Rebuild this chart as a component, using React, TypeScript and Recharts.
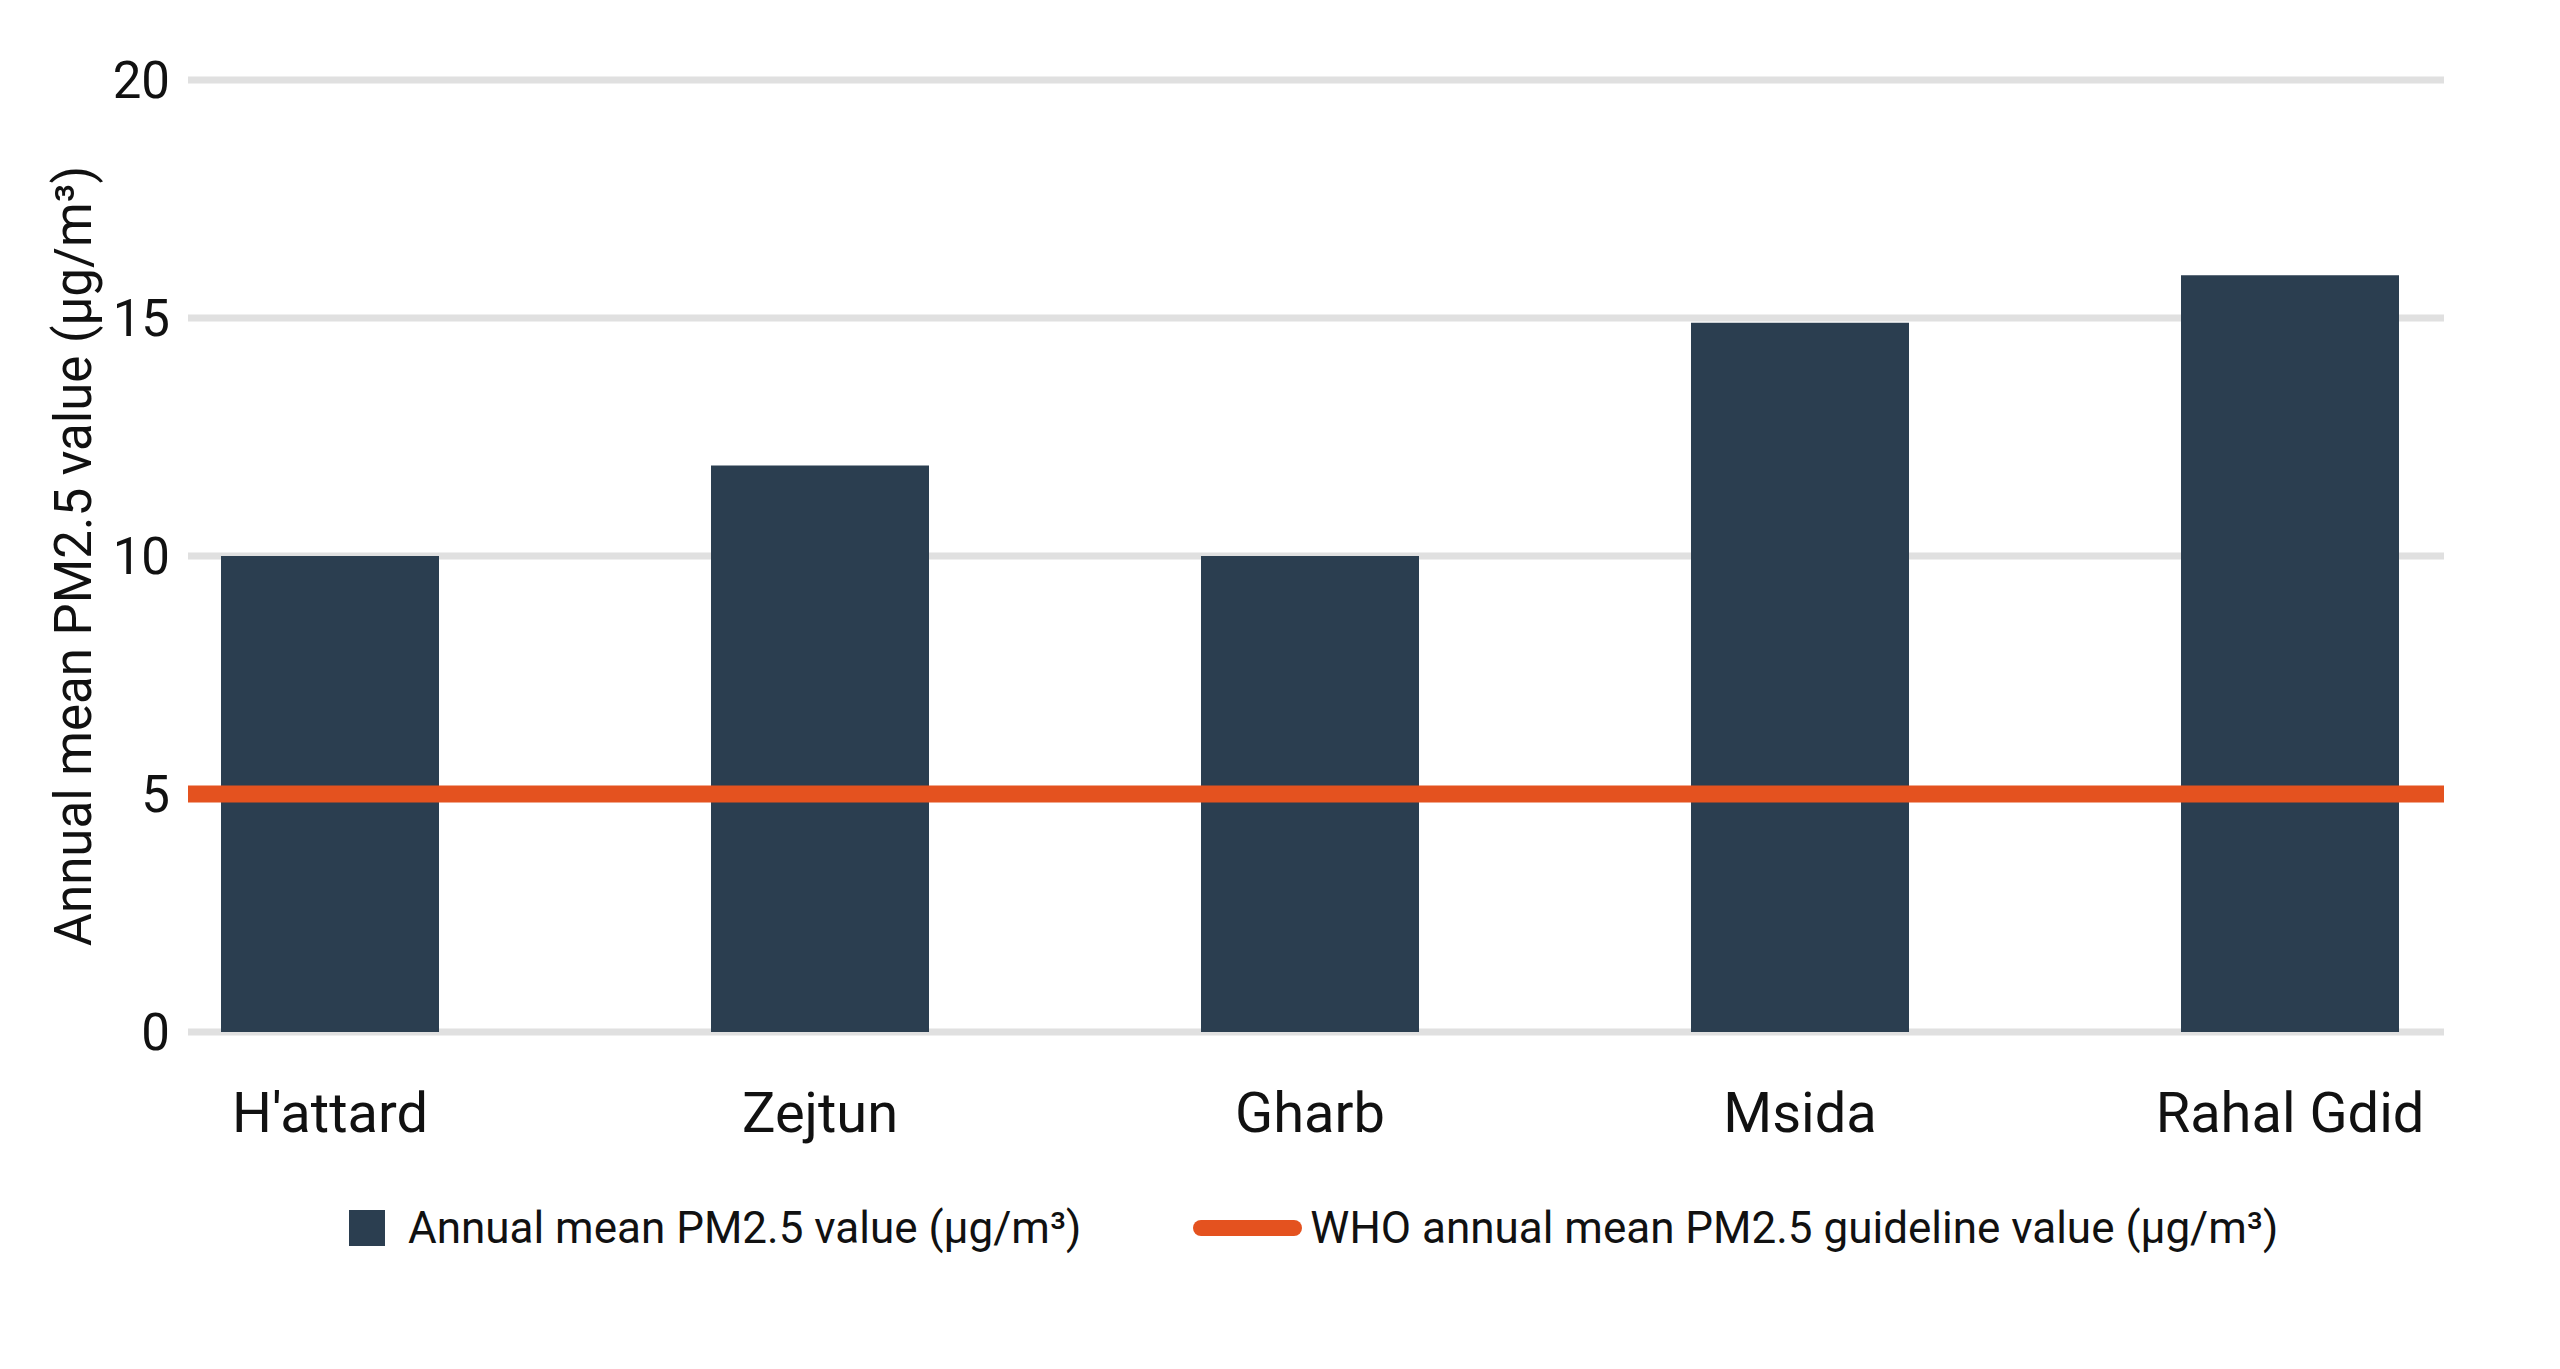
import { Bar, BarChart, CartesianGrid, Legend, ReferenceLine, XAxis, YAxis } from 'recharts';

// Monitoring stations and their annual mean PM2.5 (µg/m³)
const sites = ["H'attard", 'Zejtun', 'Gharb', 'Msida', 'Rahal Gdid'];
const pm25Values = [10, 11.9, 10, 14.9, 15.9];

// WHO guideline shown as a horizontal line
const whoGuideline = 5;

const yTicks = [0, 5, 10, 15, 20];

const seriesLabel = 'Annual mean PM2.5 value (µg/m³)';
const guidelineLabel = 'WHO annual mean PM2.5 guideline value (µg/m³)';

const BAR_COLOR = '#2B3E50';
const LINE_COLOR = '#E4521F';
const GRID_COLOR = '#E0E0E0';
const TEXT_COLOR = '#111111';

const data = sites.map((site, i) => ({ site, value: pm25Values[i] }));

// padding instead of margin so the legend box keeps its height
const renderLegend = () => (
  <div style={{ height: 197, boxSizing: 'border-box', paddingTop: 26 }}>
    <div
      style={{
        display: 'flex',
        alignItems: 'center',
        height: 60,
        paddingLeft: 349,
        fontSize: 44,
        color: TEXT_COLOR,
        fontFamily: 'Roboto, sans-serif',
        whiteSpace: 'nowrap',
      }}
    >
      <span style={{ width: 36, height: 36, background: BAR_COLOR, display: 'inline-block' }} />
      <span style={{ marginLeft: 23 }}>{seriesLabel}</span>
      <span
        style={{
          width: 109,
          height: 16,
          borderRadius: 8,
          background: LINE_COLOR,
          display: 'inline-block',
          marginLeft: 112,
        }}
      />
      <span style={{ marginLeft: 8 }}>{guidelineLabel}</span>
    </div>
  </div>
);

const App = () => {
  return (
    <div style={{ width: 2560, height: 1369, background: '#fff' }}>
      <style>{'body { margin: 0; }'}</style>
      <BarChart
        width={2560}
        height={1369}
        data={data}
        margin={{ top: 80, right: 116, bottom: 0, left: 0 }}
        style={{ fontFamily: 'Roboto, sans-serif' }}
      >
        <CartesianGrid vertical={false} stroke={GRID_COLOR} strokeWidth={7} />
        <XAxis
          dataKey="site"
          axisLine={false}
          tickLine={false}
          tickSize={0}
          tickMargin={60}
          height={140}
          interval={0}
          padding={{ left: -103, right: -91 }}
          tick={{ fontSize: 56, fill: TEXT_COLOR }}
        />
        <YAxis
          width={188}
          domain={[0, 20]}
          ticks={yTicks}
          axisLine={false}
          tickLine={false}
          tickSize={0}
          tickMargin={18}
          tick={{ fontSize: 51, fill: TEXT_COLOR }}
          label={{
            value: seriesLabel,
            angle: -90,
            position: 'insideLeft',
            offset: 73,
            style: { textAnchor: 'middle', fontSize: 51, fill: TEXT_COLOR },
          }}
        />
        <Legend verticalAlign="bottom" content={renderLegend} />
        <Bar dataKey="value" name={seriesLabel} fill={BAR_COLOR} barSize={218} isAnimationActive={false} />
        <ReferenceLine y={whoGuideline} stroke={LINE_COLOR} strokeWidth={17} />
      </BarChart>
    </div>
  );
};

export default App;
